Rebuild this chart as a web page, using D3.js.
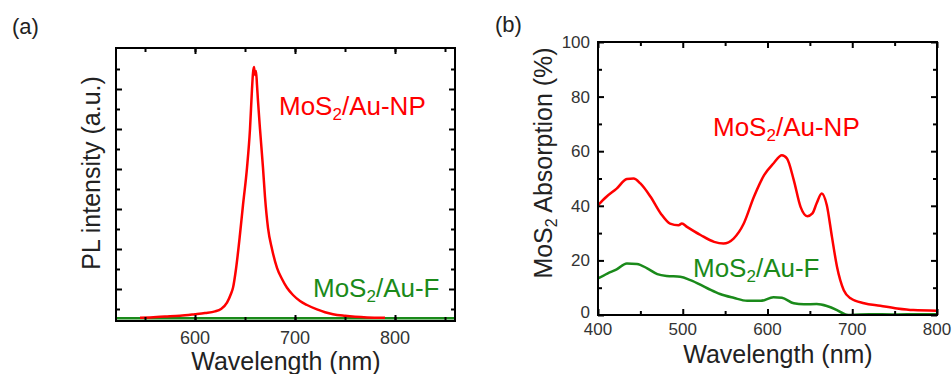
<!DOCTYPE html>
<html>
<head>
<meta charset="utf-8">
<script src="https://cdn.jsdelivr.net/npm/d3@7"></script>
<style>
  body { margin: 0; background: #fff; }
  svg { display: block; font-family: "Liberation Sans", Arial, sans-serif; }
</style>
</head>
<body>
<div id="chart"></div>
<script>
// (a) PL spectrum
var plWl = [545, 555, 570, 585, 600, 610, 620, 626, 632, 636, 638, 641, 645, 648, 652, 655, 657, 658, 659, 660, 661, 662, 663, 665, 668, 670, 673, 677, 682, 687, 692, 698, 705, 712, 722, 730, 738, 750, 772, 790]
var plNP = [0.28, 0.29, 0.31, 0.33, 0.37, 0.40, 0.44, 0.50, 0.66, 0.88, 1.03, 1.50, 2.37, 3.10, 4.03, 5.00, 6.00, 6.40, 6.55, 6.35, 6.45, 6.10, 5.70, 5.00, 4.03, 3.30, 2.53, 2.00, 1.53, 1.25, 1.03, 0.85, 0.70, 0.60, 0.49, 0.42, 0.37, 0.33, 0.29, 0.28]
var plWlF = [521, 600, 700, 800, 860]
var plF = [0.27, 0.27, 0.27, 0.27, 0.27]
var plXTicks = [600, 700, 800]
var plXMinor = [550, 600, 650, 700, 750, 800, 850]
var plYTicks = [1, 2, 3, 4, 5, 6]
var plYMinor = [0.5, 1.5, 2.5, 3.5, 4.5, 5.5, 6.5]

// (b) absorption
var abWl = [400, 410, 422, 434, 442, 450, 462, 474, 485, 495, 499, 505, 521, 537, 548, 560, 572, 584, 596, 607, 617, 623, 631, 639, 647, 653, 658, 664, 670, 676, 682, 690, 698, 714, 733, 753, 772, 800]
var abNP = [40.2, 43.3, 46.3, 49.8, 50.0, 48.2, 43.3, 37.2, 33.5, 32.9, 33.5, 32.3, 29.3, 26.8, 26.2, 28.0, 33.5, 43.3, 51.2, 55.5, 58.5, 57.3, 49.4, 39.6, 36.2, 37.2, 40.9, 44.5, 40.2, 28.7, 17.7, 9.1, 6.1, 4.3, 3.4, 2.4, 1.8, 1.6]
var abWlF = [400, 411, 422, 434, 446, 458, 470, 481, 497, 509, 529, 544, 560, 576, 592, 607, 617, 631, 643, 658, 670, 682, 692, 698, 720, 750, 780, 800]
var abF = [13.4, 15.2, 16.7, 18.9, 18.7, 17.1, 15.0, 14.3, 14.0, 12.8, 9.8, 7.7, 6.3, 5.2, 5.2, 6.5, 6.3, 4.3, 3.9, 4.0, 3.3, 1.8, 0.2, 0.0, 0.3, 0.2, 0.3, 0.3]
var abXTicks = [400, 500, 600, 700, 800]
var abXMinor = [450, 550, 650, 750]
var abYTicks = [0, 20, 40, 60, 80, 100]
var abYMinor = [10, 30, 50, 70, 90]

var red = "#ff0000", green = "#1a8a1a", ink = "#333"

var svg = d3.select("#chart").append("svg")
    .attr("width", 952)
    .attr("height", 374)

function frame(g, x, y, xt, xm, yt, ym) {
    var w = x.range()[1] - x.range()[0], h = y.range()[0] - y.range()[1]
    var axes = [
        [d3.axisBottom(x).tickValues(xt).tickSize(-6), "translate(0," + h + ")"],
        [d3.axisBottom(x).tickValues(xm).tickSize(-4), "translate(0," + h + ")"],
        [d3.axisTop(x).tickValues(xt).tickSize(-6), null],
        [d3.axisTop(x).tickValues(xm).tickSize(-4), null],
        [d3.axisLeft(y).tickValues(yt).tickSize(-6), null],
        [d3.axisLeft(y).tickValues(ym).tickSize(-4), null],
        [d3.axisRight(y).tickValues(yt).tickSize(-6), "translate(" + w + ",0)"],
        [d3.axisRight(y).tickValues(ym).tickSize(-4), "translate(" + w + ",0)"]
    ]
    axes.forEach(function(a) {
        var ax = g.append("g").call(a[0].tickFormat(""))
        if (a[1]) ax.attr("transform", a[1])
        ax.select(".domain").remove()
        ax.selectAll("line").attr("stroke", "#000").attr("stroke-width", 2)
    })
    g.append("rect")
        .attr("width", w).attr("height", h)
        .attr("fill", "none").attr("stroke", "#000").attr("stroke-width", 2)
}

function label(g, x, y, color, rest) {
    var t = g.append("text")
        .attr("x", x).attr("y", y)
        .attr("fill", color)
        .attr("font-size", 26)
    t.append("tspan").text("MoS")
    t.append("tspan").attr("font-size", 17).attr("dy", 5).text("2")
    t.append("tspan").attr("dy", -5).text(rest)
}

function draw(g, x, y, xs, ys, color) {
    var pts = xs.map(function(d, i) { return [d, ys[i]] })
    g.append("path")
        .datum(pts)
        .attr("fill", "none")
        .attr("stroke", color)
        .attr("stroke-width", 2.5)
        .attr("stroke-linejoin", "round")
        .attr("d", d3.line()
            .x(function(d) { return x(d[0]) })
            .y(function(d) { return y(d[1]) })
            .curve(d3.curveMonotoneX))
}

// ---- panel (a)
var xa = d3.scaleLinear().domain([521, 860]).range([0, 339])
var ya = d3.scaleLinear().domain([0.2, 7.025]).range([273, 0])
var ga = svg.append("g").attr("transform", "translate(116,48)")

ga.append("clipPath").attr("id", "clipA")
    .append("rect").attr("width", 339).attr("height", 273)
var pa = ga.append("g").attr("clip-path", "url(#clipA)")
draw(pa, xa, ya, plWlF, plF, green)
draw(pa, xa, ya, plWl, plNP, red)
frame(ga, xa, ya, plXTicks, plXMinor, plYTicks, plYMinor)

ga.selectAll(".xlab").data(plXTicks).enter().append("text")
    .attr("x", function(d) { return xa(d) })
    .attr("y", 296)
    .attr("text-anchor", "middle")
    .attr("font-size", 18)
    .attr("fill", ink)
    .text(function(d) { return d })

ga.append("text")
    .attr("x", 170).attr("y", 322)
    .attr("text-anchor", "middle")
    .attr("font-size", 25)
    .attr("fill", "#222")
    .text("Wavelength (nm)")

svg.append("text")
    .attr("transform", "translate(100,173) rotate(-90)")
    .attr("text-anchor", "middle")
    .attr("font-size", 25)
    .attr("fill", "#222")
    .text("PL intensity (a.u.)")

label(svg, 279, 115, red, "/Au-NP")
label(svg, 313, 297, green, "/Au-F")

svg.append("text").attr("x", 12).attr("y", 34)
    .attr("font-size", 22).attr("fill", "#222").text("(a)")

// ---- panel (b)
var xb = d3.scaleLinear().domain([400, 800]).range([0, 339])
var yb = d3.scaleLinear().domain([0, 100]).range([273, 0])
var gb = svg.append("g").attr("transform", "translate(598,42)")

gb.append("clipPath").attr("id", "clipB")
    .append("rect").attr("width", 339).attr("height", 273)
var pb = gb.append("g").attr("clip-path", "url(#clipB)")
draw(pb, xb, yb, abWlF, abF, green)
draw(pb, xb, yb, abWl, abNP, red)
frame(gb, xb, yb, abXTicks, abXMinor, abYTicks, abYMinor)

gb.selectAll(".xlab").data(abXTicks).enter().append("text")
    .attr("x", function(d) { return xb(d) })
    .attr("y", 293)
    .attr("text-anchor", "middle")
    .attr("font-size", 17)
    .attr("fill", ink)
    .text(function(d) { return d })

gb.selectAll(".ylab").data(abYTicks).enter().append("text")
    .attr("x", -8)
    .attr("y", function(d) { return yb(d) })
    .attr("dy", d => d === 0 ? "0.2em" : "0.35em")
    .attr("text-anchor", "end")
    .attr("font-size", 17)
    .attr("fill", ink)
    .text(function(d) { return d })

gb.append("text")
    .attr("x", 180).attr("y", 321)
    .attr("text-anchor", "middle")
    .attr("font-size", 25)
    .attr("fill", "#222")
    .text("Wavelength (nm)")

var yt = svg.append("text")
    .attr("transform", "translate(552,163) rotate(-90)")
    .attr("text-anchor", "middle")
    .attr("font-size", 25)
    .attr("fill", "#222")
yt.append("tspan").text("MoS")
yt.append("tspan").attr("font-size", 16).attr("dy", 5).text("2")
yt.append("tspan").attr("dy", -5).text(" Absorption (%)")

label(svg, 713, 136, red, "/Au-NP")
label(svg, 693, 277, green, "/Au-F")

svg.append("text").attr("x", 495).attr("y", 32)
    .attr("font-size", 22).attr("fill", "#222").text("(b)")
</script>
</body>
</html>
